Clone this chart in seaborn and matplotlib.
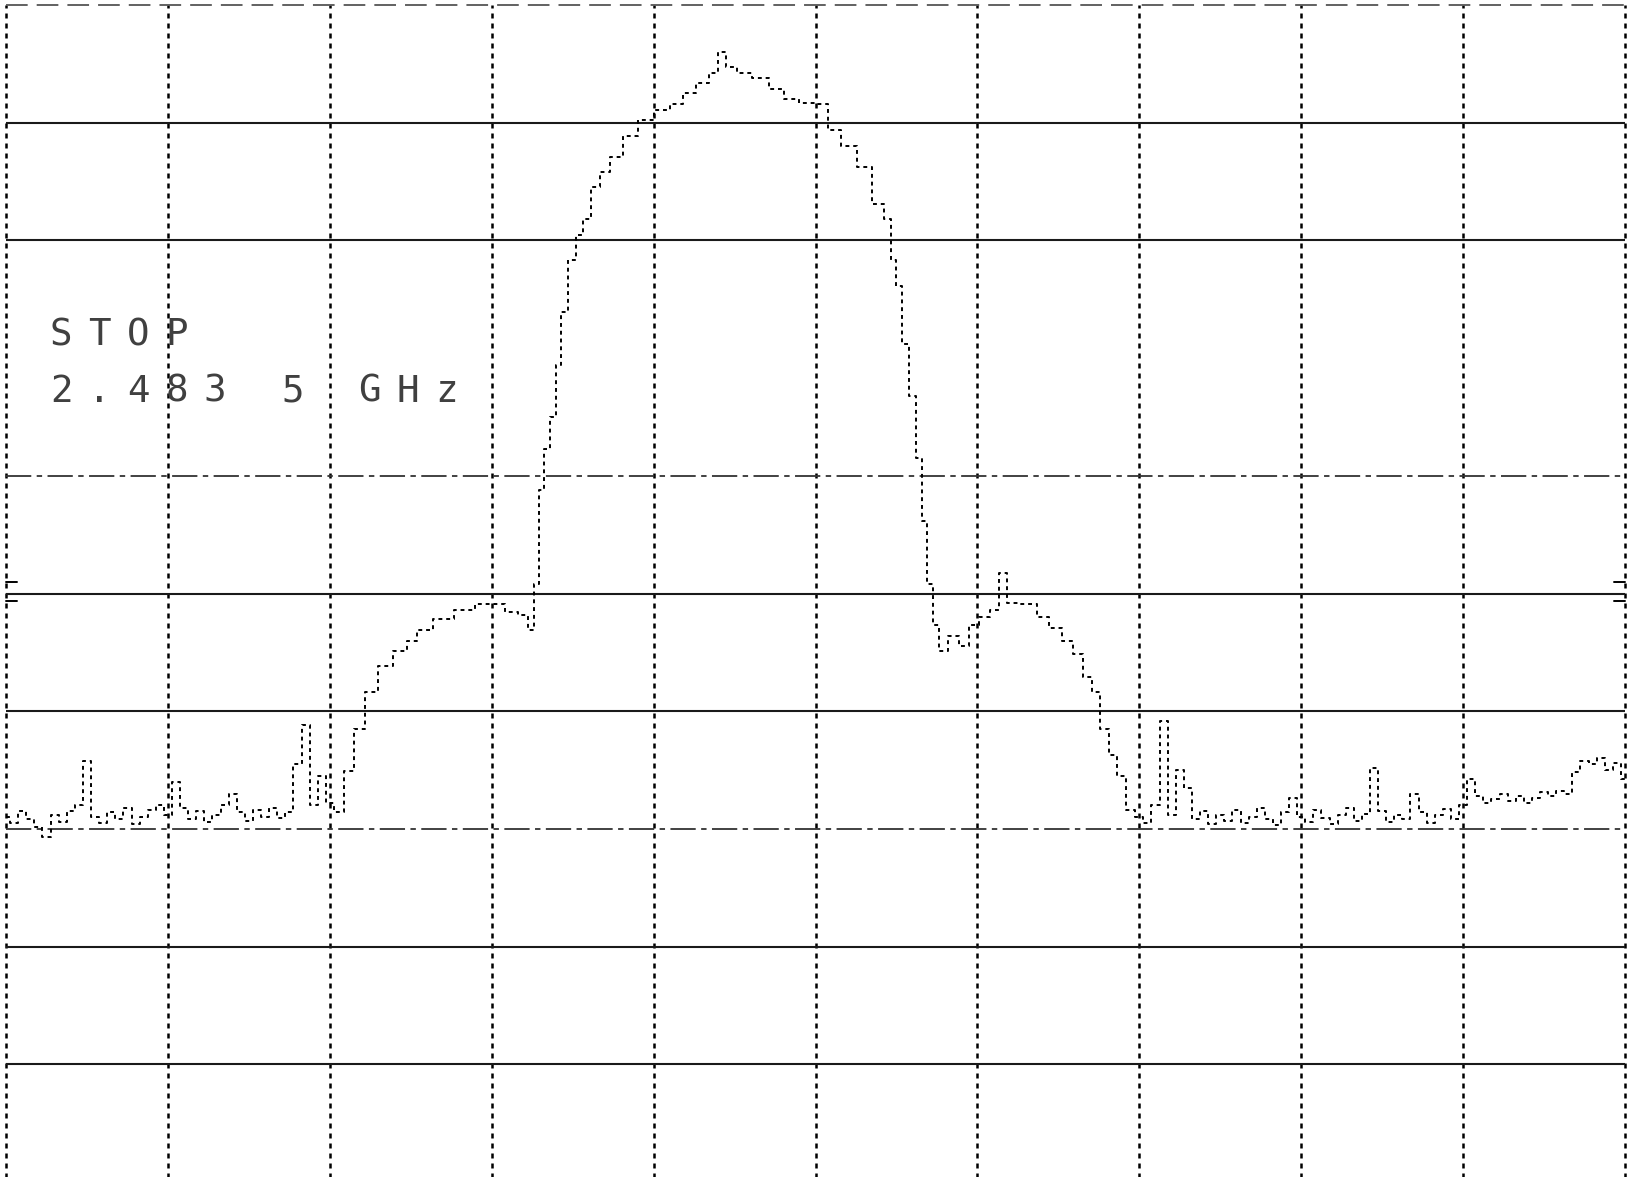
import numpy as np
import pandas as pd
import seaborn as sns
import matplotlib.pyplot as plt

# Spectrum analyser screen in grid divisions
# x: horizontal division (0..10), level: vertical division from the bottom (0..10)

left_noise_x = np.round(np.arange(0.0, 2.001, 0.05), 2)
left_noise_level = [3.10, 3.05, 3.15, 3.08, 3.02, 2.93, 3.12, 3.06, 3.15, 3.20,
                    3.58, 3.10, 3.05, 3.14, 3.08, 3.18, 3.04, 3.10, 3.16, 3.20,
                    3.12, 3.40, 3.18, 3.08, 3.15, 3.06, 3.12, 3.20, 3.30, 3.14,
                    3.07, 3.16, 3.10, 3.18, 3.09, 3.14, 3.55, 3.88, 3.20, 3.45,
                    3.22]

signal_x = [2.05, 2.12, 2.18, 2.25, 2.34, 2.44, 2.51, 2.57, 2.70, 2.83,
            2.96, 3.05, 3.12, 3.21, 3.24, 3.28, 3.31, 3.34, 3.38, 3.42,
            3.44, 3.50, 3.54, 3.59, 3.64, 3.70, 3.76, 3.86, 3.95, 4.05,
            4.15, 4.21, 4.31, 4.37, 4.42, 4.47, 4.56, 4.66, 4.76, 4.85,
            4.95, 5.05, 5.11, 5.21, 5.30, 5.40, 5.45, 5.48, 5.51, 5.56,
            5.60, 5.64, 5.67, 5.71, 5.74, 5.79, 5.85, 5.92, 5.98, 6.04,
            6.11, 6.16, 6.20, 6.33, 6.40, 6.49, 6.56, 6.62, 6.69, 6.73,
            6.78, 6.84, 6.88, 6.95]
signal_level = [3.14, 3.49, 3.85, 4.16, 4.38, 4.51, 4.60, 4.69, 4.78, 4.86,
                4.91, 4.91, 4.84, 4.82, 4.69, 5.08, 5.88, 6.23, 6.50, 6.94,
                7.39, 7.83, 8.05, 8.18, 8.45, 8.58, 8.71, 8.89, 9.02, 9.11,
                9.16, 9.25, 9.34, 9.42, 9.60, 9.47, 9.42, 9.38, 9.29, 9.20,
                9.17, 9.16, 8.94, 8.80, 8.62, 8.31, 8.18, 7.83, 7.61, 7.12,
                6.68, 6.15, 5.62, 5.08, 4.73, 4.51, 4.64, 4.55, 4.73, 4.80,
                4.86, 5.17, 4.92, 4.91, 4.80, 4.71, 4.60, 4.49, 4.29, 4.16,
                3.85, 3.63, 3.45, 3.16]

right_noise_x = np.round(np.arange(7.0, 10.001, 0.05), 2)
right_noise_level = [3.10, 3.05, 3.20, 3.92, 3.12, 3.50, 3.35, 3.08, 3.15, 3.04,
                     3.12, 3.07, 3.16, 3.05, 3.10, 3.18, 3.08, 3.03, 3.14, 3.26,
                     3.10, 3.06, 3.16, 3.09, 3.04, 3.12, 3.18, 3.07, 3.13, 3.52,
                     3.15, 3.06, 3.12, 3.08, 3.30, 3.14, 3.05, 3.12, 3.17, 3.08,
                     3.20, 3.42, 3.28, 3.22, 3.25, 3.30, 3.24, 3.28, 3.22, 3.26,
                     3.31, 3.28, 3.32, 3.30, 3.48, 3.58, 3.55, 3.60, 3.50, 3.56,
                     3.42]

solid_levels = [1, 2, 4, 5, 8, 9]
broken_levels = [3, 6]
vertical_divs = list(range(0, 11))
ref_marker_levels = [5.10, 4.94]

stop_label = "STOP"
freq_label = "2.483 5 GHz"

trace = pd.DataFrame({
    "x": np.concatenate([left_noise_x, signal_x, right_noise_x]),
    "level": np.concatenate([left_noise_level, signal_level, right_noise_level]),
})

sns.set_theme(style="white")
plt.rcParams["font.family"] = ["DejaVu Sans Mono", "DejaVu Sans"]

fig = plt.figure(figsize=(16.34, 11.77), dpi=100)
ax = fig.add_axes([0.0037, -0.00425, 0.9908, 1.0])

# Graticule: dashed verticals, mostly solid horizontals
for xv in vertical_divs:
    ax.axvline(xv, color="black", lw=1.8, linestyle=(0, (2, 2)), clip_on=False, zorder=1)
for lv in solid_levels:
    ax.axhline(lv, color="#1a1a1a", lw=1.5, zorder=1)
for lv in broken_levels:
    ax.axhline(lv, color="#333333", lw=1.3, linestyle=(0, (14, 3, 3, 3)), zorder=1)
ax.axhline(10, color="#555555", lw=1.3, linestyle=(0, (12, 5)), clip_on=False, zorder=1)

# Reference level markers at both edges
for lv in ref_marker_levels:
    ax.plot([0, 0.07], [lv, lv], color="black", lw=1.4, clip_on=False)
    ax.plot([9.93, 10], [lv, lv], color="black", lw=1.4, clip_on=False)

# The measured trace
sns.lineplot(data=trace, x="x", y="level", ax=ax, color="black", lw=1.4,
             estimator=None, sort=True, drawstyle="steps-mid",
             linestyle=(0, (2, 2)), zorder=3)
ax.set_xlim(0, 10)
ax.set_ylim(0, 10)
ax.axis("off")

# On-screen annotation, one character per cell like the analyser font
pitch = 0.238
for i, ch in enumerate(stop_label):
    ax.text(0.34 + i * pitch, 7.11, ch, ha="center", va="baseline",
            fontsize=27, color="#404040")
for i, ch in enumerate(freq_label):
    ax.text(0.34 + i * pitch, 6.63, ch, ha="center", va="baseline",
            fontsize=27, color="#404040")

fig.savefig("out.png", dpi=100, facecolor="white")
